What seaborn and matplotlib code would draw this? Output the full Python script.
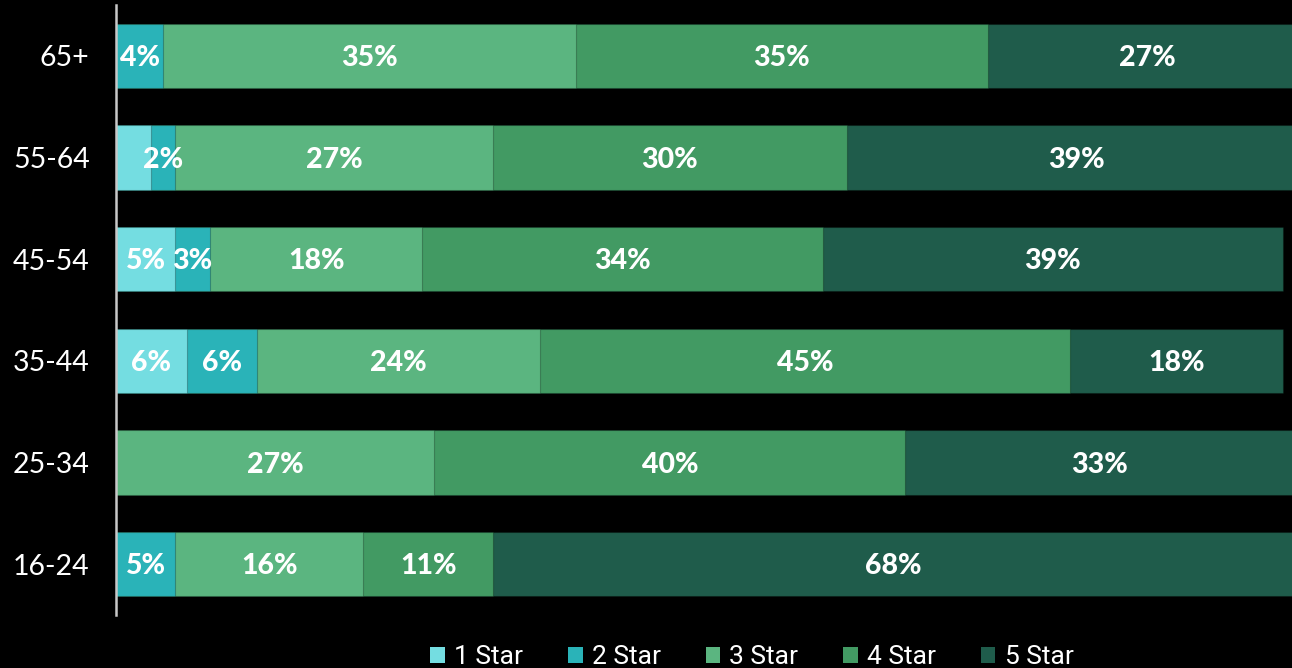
import matplotlib
matplotlib.use("Agg")
import matplotlib.pyplot as plt
from matplotlib.patches import Patch
import numpy as np
import pandas as pd
import seaborn as sns

# Age groups, top to bottom
age_groups = ["65+", "55-64", "45-54", "35-44", "25-34", "16-24"]
ratings = ["1 Star", "2 Star", "3 Star", "4 Star", "5 Star"]

# Share of each star rating per age group (%)
one_star = [0, 3, 5, 6, 0, 0]
two_star = [4, 2, 3, 6, 0, 5]
three_star = [35, 27, 18, 24, 27, 16]
four_star = [35, 30, 34, 45, 40, 11]
five_star = [27, 39, 39, 18, 33, 68]

# Segments too thin to carry a readable label
hidden_labels = {("55-64", "1 Star")}

colors = ["#74dde1", "#2ab3b8", "#5bb580", "#429a63", "#1f5c4b"]

sns.set_theme(style="white")
plt.rcParams["font.family"] = ["Lato", "DejaVu Sans"]

values = np.array([one_star, two_star, three_star, four_star, five_star], dtype=float)
cum = np.cumsum(values, axis=0)

fig = plt.figure(figsize=(12.92, 6.68), dpi=100, facecolor="black")
ax = fig.add_axes([116 / 1292, 53 / 668, 1 - 116 / 1292, 610 / 668])
ax.set_facecolor("black")

# Stacked bars: draw cumulative totals from the outermost series inward
for i in range(len(ratings) - 1, -1, -1):
    df = pd.DataFrame({"age": age_groups, "total": cum[i]})
    sns.barplot(data=df, x="total", y="age", order=age_groups, orient="h",
                color=colors[i], saturation=1, width=0.63,
                edgecolor=(0, 0, 0, 0.25), linewidth=0.8, ax=ax)

# Percentage labels centred on each segment
for i, rating in enumerate(ratings):
    for j, age in enumerate(age_groups):
        v = values[i, j]
        if v <= 0 or (age, rating) in hidden_labels:
            continue
        ax.annotate(f"{int(v)}%", xy=(cum[i, j] - v / 2, j), xytext=(0, -1.5),
                    textcoords="offset points", ha="center", va="center",
                    color="white", fontsize=20.5, fontweight="black",
                    family=["Lato", "DejaVu Sans"])

ax.set_xlim(0, 99.8)
ax.set_ylim(5.5, -0.5)
ax.set_xlabel("")
ax.set_ylabel("")
ax.xaxis.set_visible(False)
for side in ["top", "right", "bottom"]:
    ax.spines[side].set_visible(False)
ax.spines["left"].set_color("#c8c8c8")
ax.spines["left"].set_linewidth(1.8)
ax.tick_params(axis="y", length=0, pad=19, labelsize=20.5, labelcolor="white")
for lbl in ax.get_yticklabels():
    lbl.set_fontfamily(["Lato", "DejaVu Sans"])
    lbl.set_fontweight("normal")

handles = [Patch(facecolor=c, edgecolor="none", label=r) for c, r in zip(colors, ratings)]
leg = fig.legend(handles=handles, loc="center", bbox_to_anchor=(752 / 1292, 11 / 668),
                 ncol=5, frameon=False, handlelength=0.55, handleheight=0.55,
                 handletextpad=0.35, columnspacing=1.7,
                 prop={"family": ["Roboto", "DejaVu Sans"], "size": 19})
for t in leg.get_texts():
    t.set_color("white")

fig.savefig("out.png", dpi=100, facecolor="black")
